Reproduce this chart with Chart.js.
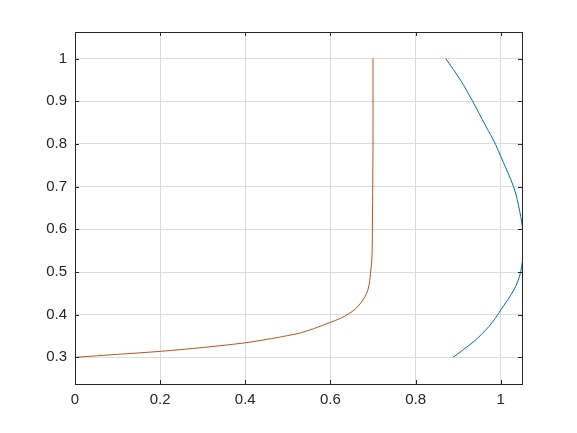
<!DOCTYPE html>
<html>
<head>
<meta charset="utf-8">
<script src="https://cdn.jsdelivr.net/npm/chart.js@4"></script>
<style>
  html, body { margin: 0; padding: 0; background: #fff; }
  #wrap { width: 577px; height: 433px; }
</style>
</head>
<body>
<div id="wrap"><canvas id="myChart"></canvas></div>
<script>
// tick positions
const xTicks = [0, 0.2, 0.4, 0.6, 0.8, 1]
const yTicks = [0.3, 0.4, 0.5, 0.6, 0.7, 0.8, 0.9, 1]

// orange curve
const orangeX = [0, 0.1, 0.2, 0.3, 0.4, 0.45, 0.5, 0.529, 0.56, 0.6, 0.625, 0.643, 0.658, 0.671, 0.681, 0.688, 0.692, 0.694, 0.697, 0.698, 0.699, 0.7, 0.7]
const orangeY = [0.3, 0.307, 0.314, 0.323, 0.334, 0.342, 0.351, 0.357, 0.367, 0.382, 0.392, 0.402, 0.413, 0.427, 0.442, 0.458, 0.477, 0.497, 0.525, 0.552, 0.65, 0.8, 1.0]

// blue curve
const blueX = [0.888, 0.912, 0.937, 0.955, 0.972, 0.987, 1.0, 1.016, 1.031, 1.041, 1.047, 1.051, 1.053, 1.053, 1.051, 1.047, 1.042, 1.035, 1.024, 1.012, 1.0, 0.988, 0.965, 0.949, 0.933, 0.906, 0.871]
const blueY = [0.3, 0.318, 0.337, 0.354, 0.372, 0.391, 0.411, 0.434, 0.458, 0.48, 0.501, 0.525, 0.55, 0.58, 0.605, 0.63, 0.655, 0.685, 0.716, 0.744, 0.771, 0.799, 0.842, 0.872, 0.902, 0.949, 1.0]

const toPoints = (xs, ys) => xs.map((x, i) => ({ x: x, y: ys[i] }))

const axisColor = '#262626'

// box round the plot with inward ticks on all four sides
const boxTicks = {
    id: 'boxTicks',
    afterDraw(chart) {
        const c = chart.ctx
        const a = chart.chartArea
        const xs = chart.scales.x
        const ys = chart.scales.y
        const len = 4
        c.save()
        c.strokeStyle = axisColor
        c.lineWidth = 1
        c.strokeRect(Math.round(a.left) + 0.5, Math.round(a.top) + 0.5,
            Math.round(a.right - a.left), Math.round(a.bottom - a.top))
        c.beginPath()
        xTicks.forEach(v => {
            const px = Math.round(xs.getPixelForValue(v)) + 0.5
            c.moveTo(px, a.bottom); c.lineTo(px, a.bottom - len)
            c.moveTo(px, a.top); c.lineTo(px, a.top + len)
        })
        yTicks.forEach(v => {
            const py = Math.round(ys.getPixelForValue(v)) + 0.5
            c.moveTo(a.left, py); c.lineTo(a.left + len, py)
            c.moveTo(a.right, py); c.lineTo(a.right - len, py)
        })
        c.stroke()
        c.restore()
    }
}

const fmt = v => String(+Number(v).toFixed(2))

new Chart(document.getElementById('myChart'), {
    type: 'scatter',
    data: {
        datasets: [{
            data: toPoints(orangeX, orangeY),
            showLine: true,
            borderColor: '#BA521F',
            borderWidth: 1,
            pointRadius: 0,
            tension: 0.3
        }, {
            data: toPoints(blueX, blueY),
            showLine: true,
            borderColor: '#0070AE',
            borderWidth: 1,
            pointRadius: 0,
            tension: 0.3
        }]
    },
    options: {
        responsive: true,
        maintainAspectRatio: false,
        animation: false,
        layout: { padding: { left: 0, right: 55, top: 32, bottom: 0 } },
        plugins: {
            legend: { display: false },
            tooltip: { enabled: false }
        },
        scales: {
            x: {
                type: 'linear',
                min: 0,
                max: 1.05,
                afterBuildTicks: s => { s.ticks = xTicks.map(v => ({ value: v })) },
                afterFit: s => { s.height = 49 },
                border: { display: false },
                grid: { color: '#dcdcdc', drawTicks: false },
                ticks: {
                    color: axisColor,
                    padding: 7,
                    font: { family: 'Liberation Sans', size: 15 },
                    maxRotation: 0,
                    callback: fmt
                }
            },
            y: {
                type: 'linear',
                min: 0.2375,
                max: 1.0625,
                afterBuildTicks: s => { s.ticks = yTicks.map(v => ({ value: v })) },
                afterFit: s => { s.width = 75 },
                border: { display: false },
                grid: { color: '#dcdcdc', drawTicks: false },
                ticks: {
                    color: axisColor,
                    padding: 8,
                    font: { family: 'Liberation Sans', size: 15 },
                    callback: fmt
                }
            }
        }
    },
    plugins: [boxTicks]
});
</script>
</body>
</html>
